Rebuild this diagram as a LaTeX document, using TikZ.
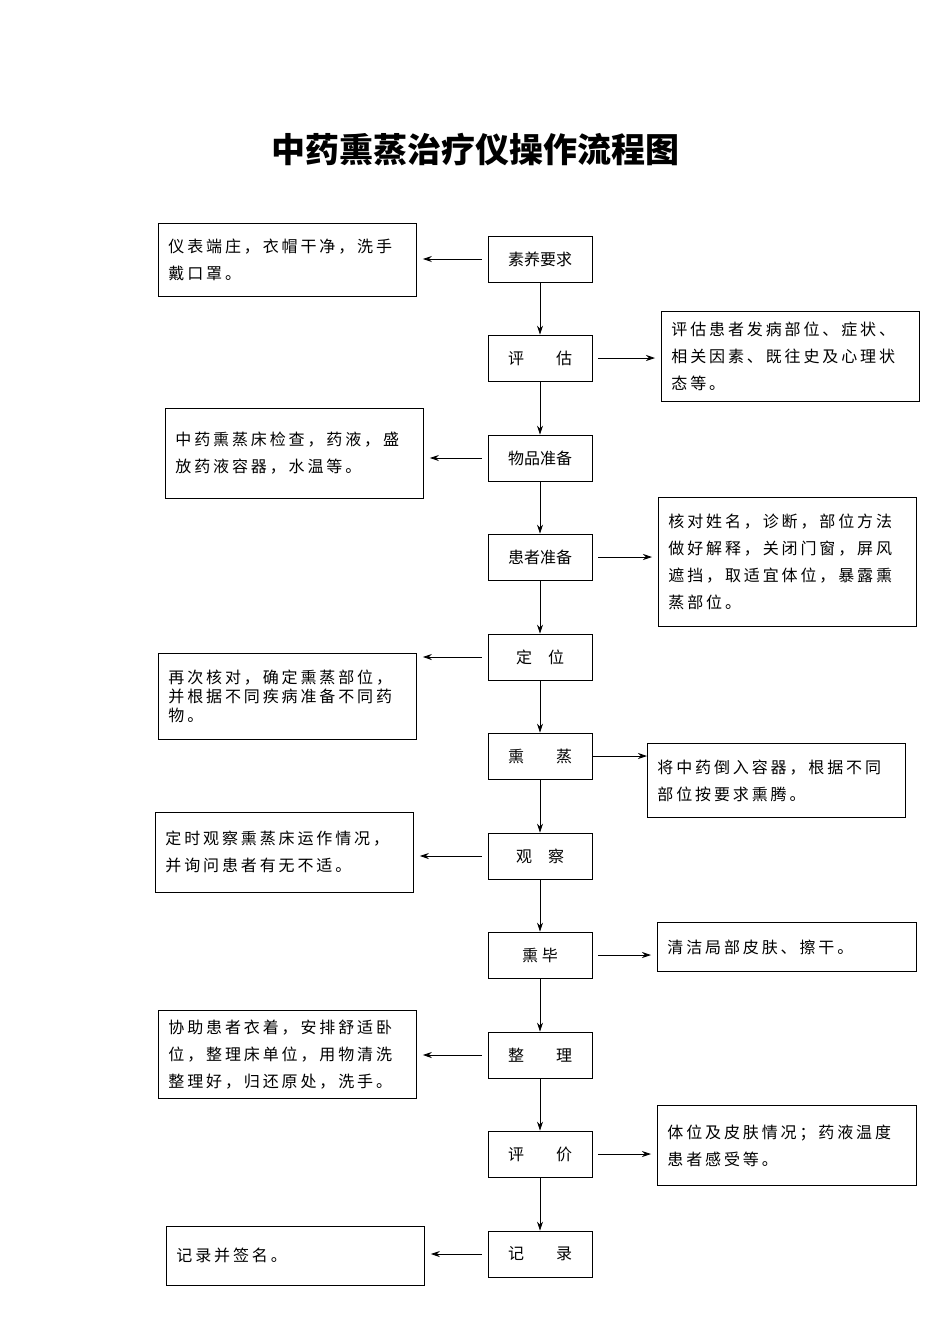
\documentclass[tikz,border=0pt]{standalone}
\usepackage{fontspec}
\setmainfont{Noto Sans CJK SC}
\newfontfamily\spaced[LetterSpace=18]{Noto Sans CJK SC}
\usetikzlibrary{arrows.meta}
\begin{document}
\begin{tikzpicture}[x=1pt,y=1pt,
  cbox/.style={draw,line width=0.8pt,minimum width=104pt,minimum height=46pt,font=\fontsize{16}{20}\selectfont,inner sep=0pt},
  sbox/.style={draw,line width=0.8pt,align=left,font=\spaced\fontsize{16}{27}\selectfont,inner xsep=10pt,anchor=north west},
  arr/.style={-{Stealth[length=9pt,width=6pt]},line width=0.8pt}]
\useasboundingbox (0,0) rectangle (950,-1344);
\node[font=\fontsize{34}{40}\selectfont\bfseries] (title) at (475,-150) {中药熏蒸治疗仪操作流程图};
\foreach \n/\y/\t in {1/259/素养要求,2/358/评\quad\quad 估,3/458/物品准备,4/557/患者准备,5/657/定\quad 位,6/756/熏\quad\quad 蒸,7/856/观\quad 察,8/955/熏\ 毕,9/1055/整\quad\quad 理,10/1154/评\quad\quad 价,11/1254/记\quad\quad 录}
  \node[cbox] (c\n) at (540,-\y) {\t};
\foreach \a/\b in {1/2,2/3,3/4,4/5,5/6,6/7,7/8,8/9,9/10,10/11}
  \draw[arr] (c\a.south) -- (c\b.north);
\node[sbox,minimum width=258pt,minimum height=73pt,text width=238pt] (s1) at (158,-223) {仪表端庄，衣帽干净，洗手\\戴口罩。};
\node[sbox,minimum width=258pt,minimum height=90pt,text width=238pt] (s2) at (661,-311) {评估患者发病部位、症状、\\相关因素、既往史及心理状\\态等。};
\node[sbox,minimum width=258pt,minimum height=90pt,text width=238pt] (s3) at (165,-408) {中药熏蒸床检查，药液，盛\\放药液容器，水温等。};
\node[sbox,minimum width=258pt,minimum height=129pt,text width=238pt] (s4) at (658,-497) {核对姓名，诊断，部位方法\\做好解释，关闭门窗，屏风\\遮挡，取适宜体位，暴露熏\\蒸部位。};
\node[sbox,minimum width=258pt,minimum height=86pt,text width=238pt,font=\spaced\fontsize{16}{19}\selectfont] (s5) at (158,-653) {再次核对，确定熏蒸部位，\\并根据不同疾病准备不同药\\物。};
\node[sbox,minimum width=258pt,minimum height=74pt,text width=238pt] (s6) at (647,-743) {将中药倒入容器，根据不同\\部位按要求熏腾。};
\node[sbox,minimum width=258pt,minimum height=80pt,text width=238pt] (s7) at (155,-812) {定时观察熏蒸床运作情况，\\并询问患者有无不适。};
\node[sbox,minimum width=259pt,minimum height=49pt,text width=239pt] (s8) at (657,-922) {清洁局部皮肤、擦干。};
\node[sbox,minimum width=258pt,minimum height=88pt,text width=238pt] (s9) at (158,-1010) {协助患者衣着，安排舒适卧\\位，整理床单位，用物清洗\\整理好，归还原处，洗手。};
\node[sbox,minimum width=259pt,minimum height=80pt,text width=239pt] (s10) at (657,-1105) {体位及皮肤情况；药液温度\\患者感受等。};
\node[sbox,minimum width=258pt,minimum height=59pt,text width=238pt] (s11) at (166,-1226) {记录并签名。};
\foreach \c/\s in {1/1,3/3,5/5,7/7,9/9,11/11}
  \draw[arr] ([xshift=-6pt]c\c.west) -- ([xshift=6pt]c\c.west -| s\s.east);
\foreach \c/\s in {2/2,4/4,8/8,10/10}
  \draw[arr] ([xshift=6pt]c\c.east) -- ([xshift=-6pt]c\c.east -| s\s.west);
\draw[arr] (c6.east) -- (c6.east -| s6.west);
\end{tikzpicture}
\end{document}
